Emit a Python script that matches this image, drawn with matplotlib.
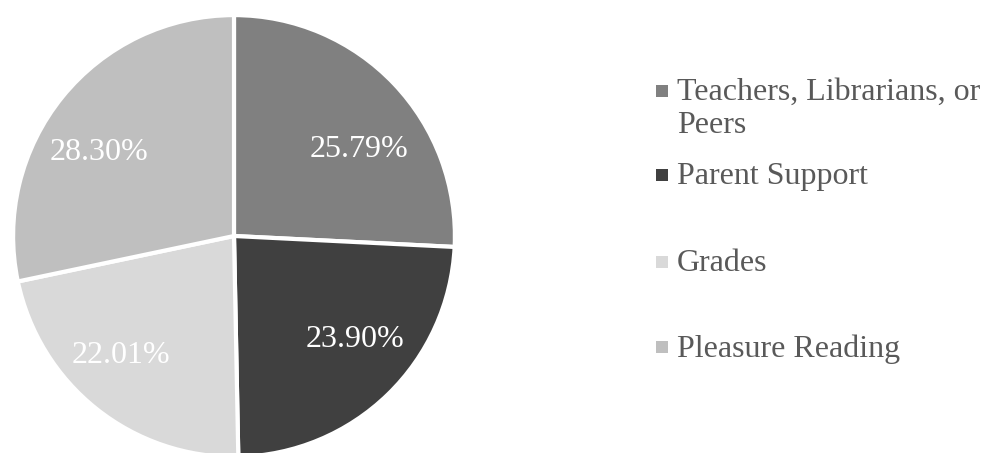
import matplotlib
matplotlib.use("Agg")
import matplotlib.pyplot as plt
from matplotlib.patches import Rectangle
import numpy as np

categories = ["Teachers, Librarians, or\nPeers", "Parent Support", "Grades", "Pleasure Reading"]
values = [25.79, 23.90, 22.01, 28.30]
colors = ["#808080", "#404040", "#d9d9d9", "#bfbfbf"]
# label placement (angle in degrees, radius fraction) tuned like Excel best-fit
label_angles = [34.8, -40.4, -133.5, 148.4]
label_radii = [0.69, 0.72, 0.745, 0.72]
legend_y_px = [91, 175, 262, 347]

W, H = 987, 453
fig = plt.figure(figsize=(W / 100, H / 100), dpi=100)
plt.rcParams['font.family'] = ['Liberation Serif', 'DejaVu Serif']

cx, cy, R = 234, 236, 222
ax = fig.add_axes([(cx - R) / W, (H - cy - R) / H, 2 * R / W, 2 * R / H])
wedges, texts, autotexts = ax.pie(
    values, colors=colors, startangle=90, counterclock=False,
    radius=1.0, autopct=lambda p: f"{p:.2f}%", pctdistance=0.72,
    wedgeprops=dict(edgecolor="white", linewidth=3.0),
    textprops=dict(color="white", fontsize=23))
for t, a, r in zip(autotexts, label_angles, label_radii):
    t.set_position((r * np.cos(np.radians(a)), r * np.sin(np.radians(a))))
    t.set_ha("center"); t.set_va("center")
ax.set_xlim(-1.005, 1.005)
ax.set_ylim(-1.005, 1.005)
ax.set_aspect("equal")
ax.axis("off")

# legend
for lab, col, ypx in zip(categories, colors, legend_y_px):
    fy = (H - ypx) / H
    fig.patches.append(Rectangle((656 / W, fy - 6 / H), 12 / W, 12 / H,
                                 transform=fig.transFigure, facecolor=col,
                                 edgecolor="none"))
    fig.text(677 / W, fy + 13 / H, lab, ha="left", va="top", fontsize=23,
             color="#595959", linespacing=1.2)

fig.savefig("out.png", dpi=100)
